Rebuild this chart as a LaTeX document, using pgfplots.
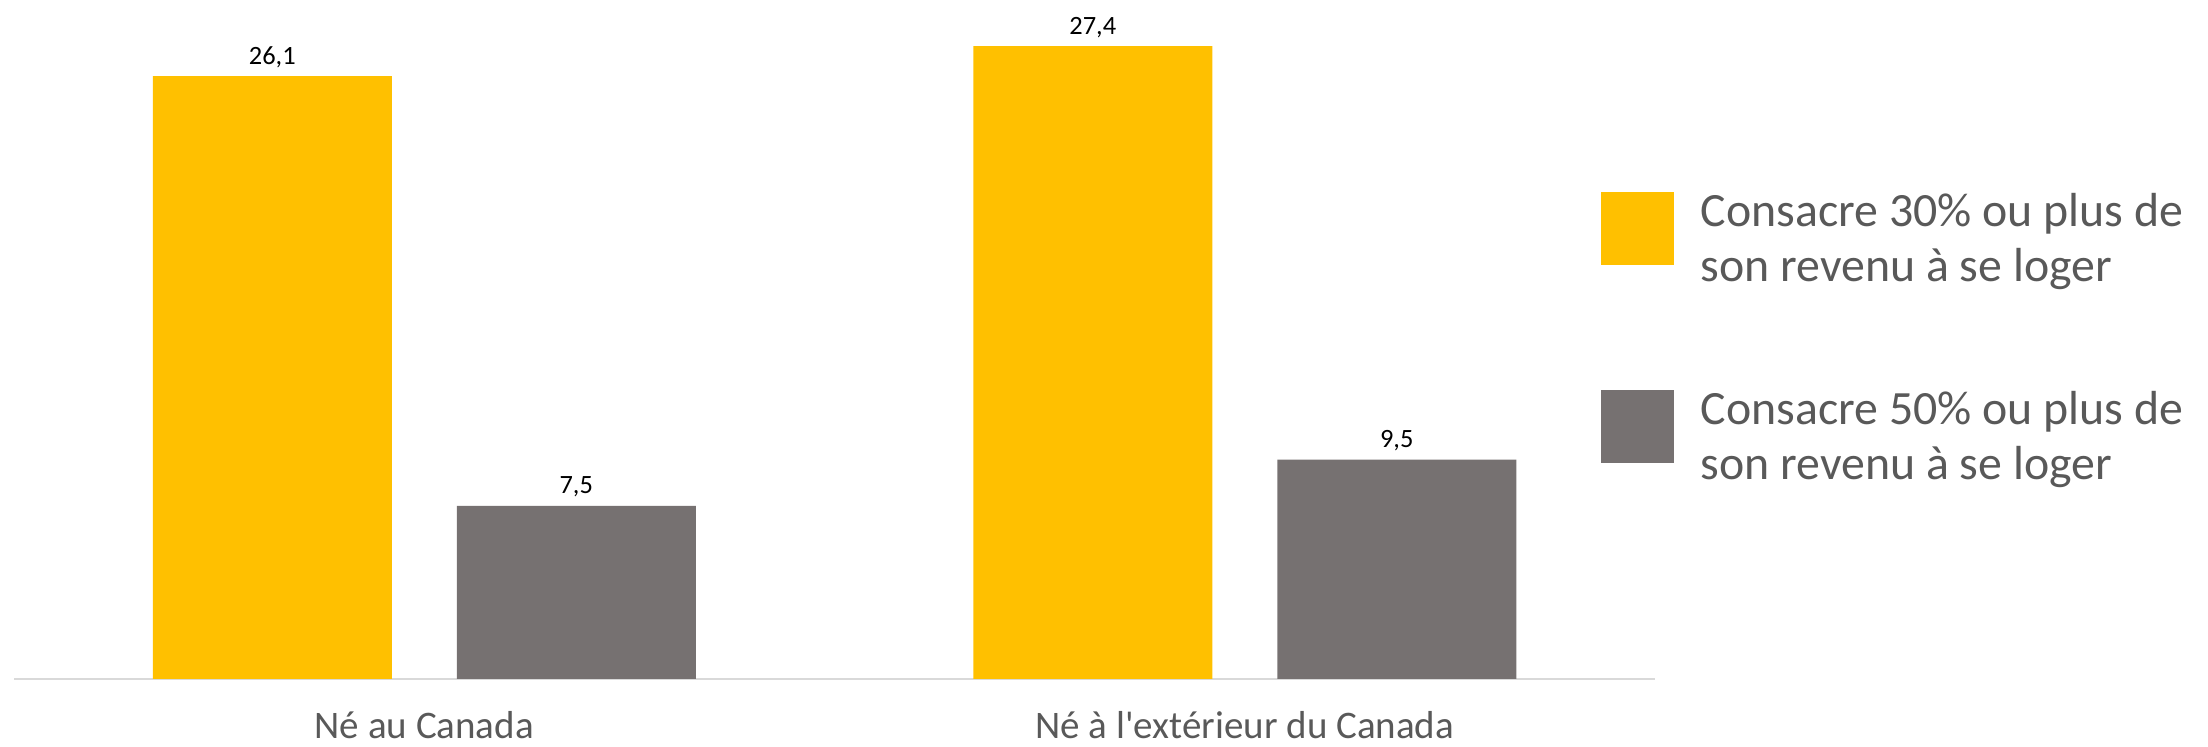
\documentclass[border=0pt]{standalone}
\usepackage{pgfplots}
\usepackage{pgfplotstable}
\pgfplotsset{compat=1.18}
\usepackage{fontspec}
\setmainfont{Carlito}
\definecolor{jaune}{HTML}{FFC000}
\definecolor{gris}{HTML}{767171}
\definecolor{textgray}{HTML}{595959}
\definecolor{axisgray}{HTML}{D9D9D9}
\pgfplotstableread{
x y
0 26.1
1 27.4
}\trente
\pgfplotstableread{
x y
0 7.5
1 9.5
}\cinquante
\begin{document}
\begin{tikzpicture}
\path[use as bounding box] (0,0) rectangle (1104pt,373.5pt);
\begin{axis}[
  at={(7pt,34pt)}, anchor=south west,
  scale only axis, width=820.5pt, height=339.5pt,
  xmin=-0.5, xmax=1.5, ymin=0, ymax=29.4,
  ybar=32.5pt, bar width=119.5pt,
  axis y line=none,
  axis x line*=bottom,
  x axis line style={draw=axisgray, line width=1pt, -},
  xtick={0,1},
  xticklabels={Né au Canada, Né à l\textquotesingle extérieur du Canada},
  xtick style={draw=none},
  major tick length=0pt,
  xticklabel style={anchor=base, yshift=-30pt, inner sep=0pt, text=textgray, font=\fontsize{19.5pt}{23pt}\selectfont},
  nodes near coords,
  /pgf/number format/.cd, use comma, fixed, fixed zerofill, precision=1, assume math mode=true,
  /pgfplots/.cd,
  every node near coord/.append style={anchor=base, inner sep=0pt, yshift=6pt, text=black, font=\fontsize{13.2pt}{15pt}\selectfont},
  legend style={at={(rel axis cs:0.967,0.7175)}, anchor=north west, draw=none, fill=none, inner sep=0pt, outer sep=0pt, row sep=53pt, column sep=13.5pt, nodes={inner sep=0pt, align=left, text=textgray, font=\fontsize{23.9pt}{27.5pt}\selectfont}},
  legend cell align=left,
  legend image code/.code={\fill[#1,draw=none] (0pt,-13pt) rectangle (36.5pt,23.5pt);},
]
\addplot[fill=jaune, draw=none] table[x=x,y=y] {\trente};
\addlegendentry{Consacre 30\% ou plus de\\son revenu à se loger}
\addplot[fill=gris, draw=none] table[x=x,y=y] {\cinquante};
\addlegendentry{Consacre 50\% ou plus de\\son revenu à se loger}
\end{axis}
\end{tikzpicture}
\end{document}
